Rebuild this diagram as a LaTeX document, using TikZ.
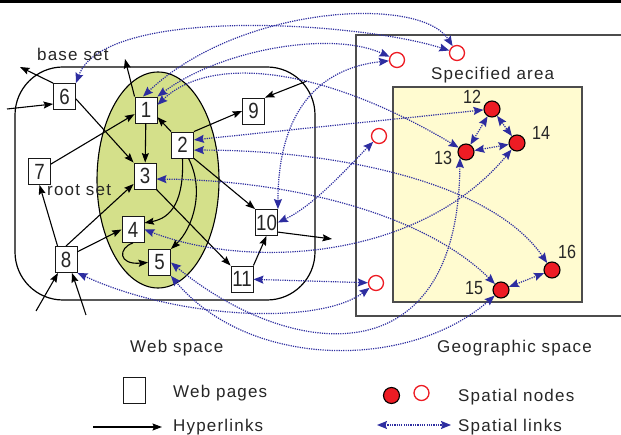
\documentclass[tikz,border=0pt]{standalone}
\usepackage{fontspec}
\setmainfont{Liberation Sans}
\newfontfamily\numfont[FakeStretch=0.85]{Liberation Sans}
\newfontfamily\lblfont[LetterSpace=7]{Liberation Sans}
\usetikzlibrary{arrows.meta,calc}
\definecolor{sblue}{RGB}{45,45,160}
\definecolor{sred}{RGB}{237,28,36}
\definecolor{sgreen}{RGB}{212,224,138}
\definecolor{syellow}{RGB}{255,251,208}
\begin{document}
\begin{tikzpicture}[x=1pt,y=-1pt,
  page/.style={draw=black!90, line width=0.9pt, fill=white, minimum width=22pt, minimum height=26pt, inner sep=0pt, font=\numfont\fontsize{22}{22}\selectfont, text=black!85},
  hlink/.style={draw=black, line width=1.1pt, -{Stealth[length=9.5pt,width=7pt,inset=1.5pt]}},
  slink/.style={draw=sblue, line width=1.2pt, dash pattern=on 1.2pt off 1.1pt, {Stealth[length=10pt,width=8pt,inset=1.5pt]}-{Stealth[length=10pt,width=8pt,inset=1.5pt]}},
  snode/.style={circle, draw=black, fill=sred, line width=1.1pt, minimum size=16pt, inner sep=0pt},
  onode/.style={circle, draw=sred, fill=white, line width=1.3pt, minimum size=15pt, inner sep=0pt},
  lbl/.style={font=\lblfont\fontsize{17}{17}\selectfont, inner sep=0pt, anchor=base west, text=black!85},
  numlbl/.style={font=\numfont\fontsize{19}{19}\selectfont, inner sep=0pt, anchor=base west, text=black!85}
]
\useasboundingbox (0,0) rectangle (621,435);
\fill[black] (0,0) rectangle (621,3);
% regions
\draw[line width=1.2pt, rounded corners=48pt] (15,67) rectangle (315,300);
\draw[fill=sgreen, line width=1.1pt] (158,180) ellipse [x radius=61, y radius=108];
\draw[draw=black!70, line width=1.2pt] (623,35) -- (356,35) -- (356,316) -- (623,316);
\draw[draw=black!70, fill=syellow, line width=1.3pt] (393,87) rectangle (582,302);
% web pages
\node[page] (n6) at (64.5,96.5) {6};
\node[page] (n1) at (146,110) {1};
\node[page] (n9) at (253.5,111) {9};
\node[page] (n2) at (182.5,145) {2};
\node[page] (n7) at (39.5,171.5) {7};
\node[page] (n3) at (145,176) {3};
\node[page] (n4) at (133,229.5) {4};
\node[page] (n5) at (159.5,262.5) {5};
\node[page] (n8) at (66,259.5) {8};
\node[page] (n10) at (266.5,222.5) {10};
\node[page] (n11) at (242,279) {11};
% spatial nodes
\node[onode] (c1) at (397,60) {};
\node[onode] (c2) at (457,53) {};
\node[onode] (c3) at (379,136) {};
\node[onode] (c4) at (376,283) {};
\node[snode] (g12) at (492,109) {};
\node[snode] (g13) at (466,152) {};
\node[snode] (g14) at (517,143) {};
\node[snode] (g15) at (501,290) {};
\node[snode] (g16) at (552,270) {};
\node[numlbl] (t12) at (463,104) {12};
\node[numlbl] (t13) at (434,165) {13};
\node[numlbl] (t14) at (532,140) {14};
\node[numlbl] (t15) at (465,295) {15};
\node[numlbl] (t16) at (558,259) {16};
% free ends
\coordinate (o6) at (20,67);
\coordinate (i6) at (7,109);
\coordinate (o1) at (125,59);
\coordinate (i9) at (307,81);
\coordinate (i8a) at (36,311);
\coordinate (i8b) at (86,315);
\coordinate (o10) at (332,239);
% hyperlinks
\draw[hlink] (n6.348) -- (n3.north west);
\draw[hlink] (n6.north west) -- (o6);
\draw[hlink] (i6) -- ($(n6.west)+(0,7.5)$);
\draw[hlink] (n1.north west) -- (o1);
\draw[hlink] (n1) -- (n3);
\draw[hlink] (n2.north west) -- (n1.328);
\draw[hlink] (n2.north east) -- (n9.west);
\draw[hlink] (i9) -- (n9.north east);
\draw[hlink] (n7.33) -- (n1.200);
\draw[hlink] ($(n8.north west)+(3,0)$) -- (n7.south);
\draw[hlink] (n8.north) -- (n3.215);
\draw[hlink] (n8.34) -- (n4.west);
\draw[hlink] (i8a) -- ($(n8.south)+(-8,0)$);
\draw[hlink] (i8b) -- ($(n8.south)+(6,0)$);
\draw[hlink] (n3.south east) -- (n11.north west);
\draw[hlink] (n2.south east) -- (n10.north west);
\draw[hlink] (n2.south) .. controls (184,200) and (172,218) .. (n4.30);
\draw[hlink] ($(n2.south)+(6,0)$) .. controls (205,190) and (193,228) .. (n5.north east);
\draw[hlink] (n4.south) .. controls (118,248) and (118,265) .. (n5.west);
\draw[hlink] (n11.north east) -- (n10.south);
\draw[hlink] (n10.320) -- (o10);
% spatial links
\draw[slink] (n6.north east) .. controls (105,5) and (360,22) .. (c2);
\draw[slink] ($(n1.north)+(-3,0)$) .. controls (240,5) and (420,-5) .. (c2);
\draw[slink] (n1.north east) .. controls (220,50) and (330,30) .. (c1);
\draw[slink] (n1.24) .. controls (210,55) and (320,65) .. (g13);
\draw[slink] (n2.24) -- (g12);
\draw[slink] (n2.336) .. controls (330,150) and (490,180) .. (g16);
\draw[slink] (n3.345) .. controls (280,180) and (420,210) .. (g15);
\draw[slink] (n4.east) .. controls (250,270) and (420,260) .. (g14);
\draw[slink] (n5.east) .. controls (290,360) and (458,380) .. (g13.225);
\draw[slink] (n5.south east) .. controls (250,370) and (410,370) .. (g15);
\draw[slink] (n8.south east) .. controls (180,320) and (320,325) .. (c4);
\draw[slink] (n11) -- (c4);
\draw[slink] (n10.east) .. controls (315,205) and (350,165) .. (c3);
\draw[slink] (n10.north east) .. controls (278,110) and (320,68) .. (c1);
\draw[slink] (g12) -- (g13);
\draw[slink] (g12) -- (g14);
\draw[slink] (g13) -- (g14);
\draw[slink] (g15) -- (g16);
% labels
\node[lbl] (tbase) at (37,61) {base set};
\node[lbl] (troot) at (47,196) {root set};
\node[lbl] (tspec) at (431,80) {Specified area};
\node[lbl] (tweb) at (130,353) {Web space};
\node[lbl] (tgeo) at (437,353) {Geographic space};
% legend
\node[page] (lgbox) at (134,390) {};
\node[lbl] (twp) at (173,398) {Web pages};
\coordinate (lh1) at (93,427);
\coordinate (lh2) at (162,427);
\draw[hlink] (lh1) -- (lh2);
\node[lbl] (thl) at (173,431) {Hyperlinks};
\node[snode] (lgs) at (391.5,395.5) {};
\node[onode] (lgo) at (421.5,393) {};
\node[lbl] (tsn) at (458,401.5) {Spatial nodes};
\coordinate (ls1) at (377,425);
\coordinate (ls2) at (451,425);
\draw[slink] (ls1) -- (ls2);
\node[lbl] (tsl) at (458,431) {Spatial links};
\end{tikzpicture}
\end{document}
